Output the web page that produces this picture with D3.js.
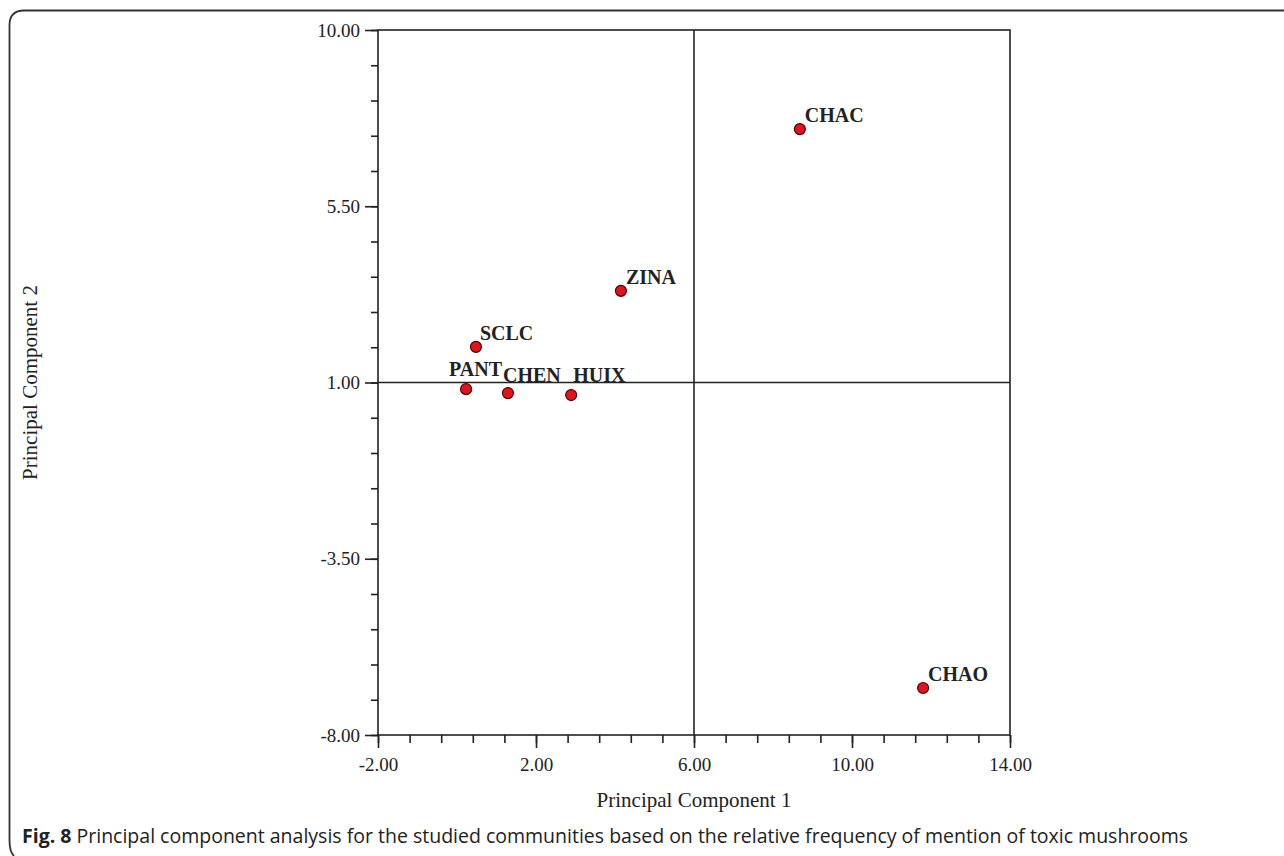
<!DOCTYPE html>
<html>
<head>
<meta charset="utf-8">
<title>PCA</title>
<script src="https://d3js.org/d3.v7.min.js"></script>
<style>
  body { margin: 0; background: #fff; }
  svg text { fill: #222; }
</style>
</head>
<body>
<script>
// data
var communities = ["CHAC", "ZINA", "SCLC", "PANT", "CHEN", "HUIX", "CHAO"];
var pc1 = [8.68, 4.15, 0.48, 0.23, 1.29, 2.89, 11.80];
var pc2 = [7.47, 3.34, 1.91, 0.83, 0.73, 0.68, -6.80];
var xTicks = [-2, 2, 6, 10, 14];
var yTicks = [-8, -3.5, 1, 5.5, 10];

// label nudges (px) relative to each point
var labelDx = [5, 5, 4, -17, -5, 2, 5];
var labelDy = [-7, -7, -7, -13, -11, -13, -7];

var width = 1284, height = 856;
var serif = "'Liberation Serif', 'Times New Roman', serif";

var svg = d3.select("body").append("svg")
    .attr("width", width)
    .attr("height", height);

// outer frame
svg.append("path")
    .attr("d", "M1284,10.5 H24 Q9.5,10.5 9.5,25 V840 Q9.5,852 14,856")
    .attr("fill", "none")
    .attr("stroke", "#333")
    .attr("stroke-width", 1.8);

var x = d3.scaleLinear().domain([-2, 14]).range([378, 1010]);
var y = d3.scaleLinear().domain([-8, 10]).range([735, 30]);

var fmt = function(v) { return d3.format(".2f")(v).replace("\u2212", "-"); };

// minor ticks
var xMinor = d3.range(-2, 14.001, 0.8);
var yMinor = d3.range(-8, 10.001, 0.9);

svg.append("g").attr("transform", "translate(0,735)")
    .call(d3.axisBottom(x).tickValues(xMinor).tickSize(8).tickFormat(""));
svg.append("g").attr("transform", "translate(0,735)")
    .call(d3.axisBottom(x).tickValues(xTicks).tickSize(13).tickPadding(10).tickFormat(fmt));

svg.append("g").attr("transform", "translate(378,0)")
    .call(d3.axisLeft(y).tickValues(yMinor).tickSize(7).tickFormat(""));
svg.append("g").attr("transform", "translate(378,0)")
    .call(d3.axisLeft(y).tickValues(yTicks).tickSize(13).tickPadding(5).tickFormat(fmt));

svg.selectAll(".domain").remove();
svg.selectAll(".tick line").attr("stroke", "#222").attr("stroke-width", 1.6);
svg.selectAll(".tick text")
    .style("font-family", serif)
    .style("font-size", "19px")
    .attr("fill", "#333");

// plot box
svg.append("rect")
    .attr("x", x(-2)).attr("y", y(10))
    .attr("width", x(14) - x(-2)).attr("height", y(-8) - y(10))
    .attr("fill", "none").attr("stroke", "#222").attr("stroke-width", 1.6);

// cross lines
svg.append("line")
    .attr("x1", x(6)).attr("x2", x(6)).attr("y1", y(10)).attr("y2", y(-8))
    .attr("stroke", "#222").attr("stroke-width", 1.6);
svg.append("line")
    .attr("x1", x(-2)).attr("x2", x(14)).attr("y1", y(1)).attr("y2", y(1))
    .attr("stroke", "#222").attr("stroke-width", 1.6);

// points
svg.selectAll("circle.pt")
    .data(communities)
    .enter()
    .append("circle")
    .attr("class", "pt")
    .attr("cx", function(d, i) { return x(pc1[i]); })
    .attr("cy", function(d, i) { return y(pc2[i]); })
    .attr("r", 5.5)
    .attr("fill", "#e3121b")
    .attr("stroke", "#4a0508")
    .attr("stroke-width", 1.2);

svg.selectAll("text.lbl")
    .data(communities)
    .enter()
    .append("text")
    .attr("class", "lbl")
    .attr("x", function(d, i) { return x(pc1[i]) + labelDx[i]; })
    .attr("y", function(d, i) { return y(pc2[i]) + labelDy[i]; })
    .style("font-family", serif)
    .style("font-weight", "bold")
    .style("font-size", "20px")
    .text(function(d) { return d; });

// axis titles
svg.append("text")
    .attr("x", x(6)).attr("y", 807)
    .attr("text-anchor", "middle")
    .style("font-family", serif)
    .style("font-size", "21px")
    .attr("fill", "#333")
    .text("Principal Component 1");

svg.append("text")
    .attr("transform", "translate(37," + y(1) + ") rotate(-90)")
    .attr("text-anchor", "middle")
    .style("font-family", serif)
    .style("font-size", "21px")
    .attr("fill", "#333")
    .text("Principal Component 2");

// caption
var cap = svg.append("text")
    .attr("x", 22).attr("y", 843)
    .style("font-family", "'Open Sans', 'Noto Sans', sans-serif")
    .style("font-size", "19.5px");
cap.append("tspan").style("font-weight", "bold").text("Fig. 8");
cap.append("tspan").text(" Principal component analysis for the studied communities based on the relative frequency of mention of toxic mushrooms");
</script>
</body>
</html>
